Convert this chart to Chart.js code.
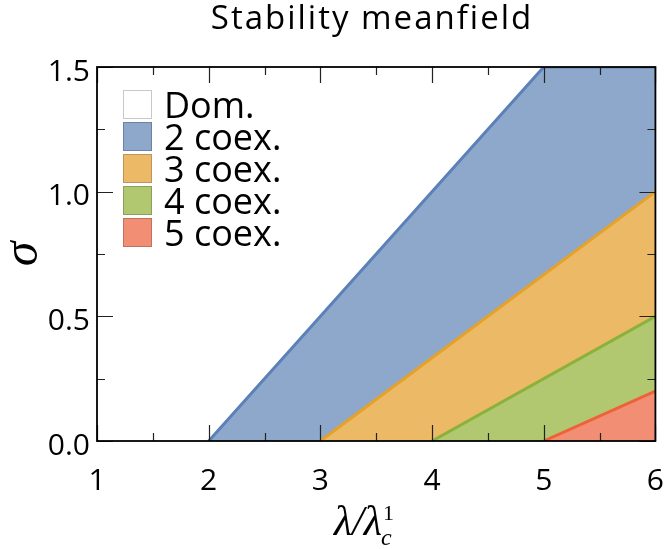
<!DOCTYPE html>
<html>
<head>
<meta charset="utf-8">
<script src="https://cdn.jsdelivr.net/npm/chart.js@4.4.1/dist/chart.umd.min.js"></script>
<style>
    html, body { margin: 0; padding: 0; background: #fff; }
    #wrap { width: 664px; height: 549px; }
</style>
</head>
<body>
<div id="wrap"><canvas id="stabilityChart" width="664" height="549"></canvas></div>
<script>
// phase boundaries: sigma as a function of lambda / lambda_c^1
const lambda2 = [2, 5, 6];
const sigma2 = [0, 1.5, 1.5];
const lambda3 = [3, 6];
const sigma3 = [0, 1.0];
const lambda4 = [4, 6];
const sigma4 = [0, 0.5];
const lambda5 = [5, 6];
const sigma5 = [0, 0.2];

const xMajor = [1, 2, 3, 4, 5, 6];
const xMinor = [1.5, 2.5, 3.5, 4.5, 5.5];
const yMajor = [0, 0.5, 1.0, 1.5];
const yMinor = [0.25, 0.75, 1.25];

const labels = ['Dom.', '2 coex.', '3 coex.', '4 coex.', '5 coex.'];

function toPoints(xs, ys) {
    return xs.map((x, i) => ({ x: x, y: ys[i] }));
}

const FONT = '"Open Sans", "DejaVu Sans", sans-serif';
const MATH = '"Liberation Serif", "DejaVu Serif", serif';

// legend, tick marks, frame and axis titles
const decorations = {
    id: 'decorations',
    afterDatasetsDraw(chart) {
        const ctx = chart.ctx;
        const a = chart.chartArea;
        const xs = chart.scales.x;
        const ys = chart.scales.y;

        ctx.save();
        ctx.strokeStyle = '#222';
        ctx.lineWidth = 1.2;
        ctx.beginPath();
        const xTick = (v, len) => {
            const px = Math.round(xs.getPixelForValue(v)) + 0.5;
            ctx.moveTo(px, a.bottom); ctx.lineTo(px, a.bottom - len);
            ctx.moveTo(px, a.top); ctx.lineTo(px, a.top + len);
        };
        const yTick = (v, len) => {
            const py = Math.round(ys.getPixelForValue(v)) + 0.5;
            ctx.moveTo(a.left, py); ctx.lineTo(a.left + len, py);
            ctx.moveTo(a.right, py); ctx.lineTo(a.right - len, py);
        };
        xMajor.forEach(v => xTick(v, 16));
        xMinor.forEach(v => xTick(v, 8));
        yMajor.forEach(v => yTick(v, 16));
        yMinor.forEach(v => yTick(v, 8));
        ctx.stroke();

        ctx.strokeStyle = '#000';
        ctx.lineWidth = 1.8;
        ctx.strokeRect(a.left, a.top, a.right - a.left, a.bottom - a.top);

        // legend
        ctx.font = '36px ' + FONT;
        ctx.textAlign = 'left';
        ctx.textBaseline = 'alphabetic';
        chart.data.datasets.forEach((ds, i) => {
            const top = a.top + 23 + i * 32;
            const left = a.left + 26;
            ctx.fillStyle = ds.backgroundColor;
            ctx.fillRect(left, top, 29, 29);
            ctx.strokeStyle = ds.legendBorder;
            ctx.lineWidth = 1;
            ctx.strokeRect(left + 0.5, top + 0.5, 28, 28);
            ctx.fillStyle = '#000';
            ctx.fillText(ds.label, left + 41, top + 27.5);
        });

        // title
        ctx.font = '33px ' + FONT;
        ctx.letterSpacing = '2px';
        ctx.textAlign = 'center';
        ctx.fillText('Stability meanfield', 372, 29);
        ctx.letterSpacing = '0px';

        // x axis title: lambda / lambda_c^1
        ctx.textAlign = 'left';
        ctx.font = 'italic 42px ' + MATH;
        const base = 'λ/λ';
        const x0 = 334;
        ctx.fillText(base, x0, 535);
        const w = ctx.measureText(base).width;
        ctx.font = '22px ' + MATH;
        ctx.fillText('1', x0 + w + 1, 520);
        ctx.font = 'italic 24px ' + MATH;
        ctx.fillText('c', x0 + w - 1, 545);

        // y axis title
        ctx.translate(25, (a.top + a.bottom) / 2);
        ctx.rotate(-Math.PI / 2);
        ctx.font = 'italic 50px ' + MATH;
        ctx.textAlign = 'center';
        ctx.fillText('σ', 0, 12);
        ctx.restore();
    }
};

const hiddenGrid = {
    display: true,
    drawOnChartArea: false,
    drawTicks: true,
    color: 'rgba(0,0,0,0)'
};

const ctx = document.getElementById('stabilityChart').getContext('2d');
const stabilityChart = new Chart(ctx, {
    type: 'line',
    data: {
        datasets: [
            {
                label: labels[0],
                data: [],
                backgroundColor: '#ffffff',
                borderColor: '#ffffff',
                legendBorder: '#c8c8c8',
                fill: false,
                order: 5
            },
            {
                label: labels[1],
                data: toPoints(lambda2, sigma2),
                backgroundColor: 'rgb(142, 168, 203)',
                borderColor: 'rgb(92, 128, 184)',
                legendBorder: 'rgb(110, 130, 160)',
                fill: 'origin',
                clip: 0,
                order: 4
            },
            {
                label: labels[2],
                data: toPoints(lambda3, sigma3),
                backgroundColor: 'rgb(236, 185, 102)',
                borderColor: 'rgb(230, 162, 40)',
                legendBorder: 'rgb(190, 150, 90)',
                fill: 'origin',
                order: 3
            },
            {
                label: labels[3],
                data: toPoints(lambda4, sigma4),
                backgroundColor: 'rgb(178, 200, 112)',
                borderColor: 'rgb(138, 178, 58)',
                legendBorder: 'rgb(140, 160, 90)',
                fill: 'origin',
                order: 2
            },
            {
                label: labels[4],
                data: toPoints(lambda5, sigma5),
                backgroundColor: 'rgb(242, 142, 116)',
                borderColor: 'rgb(238, 98, 58)',
                legendBorder: 'rgb(190, 115, 95)',
                fill: 'origin',
                order: 1
            }
        ]
    },
    options: {
        responsive: false,
        animation: false,
        layout: {
            padding: { top: 67, right: 7, left: 0, bottom: 0 }
        },
        elements: {
            point: { radius: 0 },
            line: { borderWidth: 3, tension: 0 }
        },
        plugins: {
            legend: { display: false },
            title: { display: false },
            tooltip: { enabled: false }
        },
        scales: {
            x: {
                type: 'linear',
                min: 1,
                max: 6,
                grid: Object.assign({ tickLength: 22 }, hiddenGrid),
                border: { display: false },
                ticks: {
                    stepSize: 1,
                    padding: 0,
                    color: '#000',
                    font: { family: FONT, size: 30 }
                },
                afterFit: scale => { scale.height = 108; }
            },
            y: {
                min: 0,
                max: 1.5,
                grid: Object.assign({ tickLength: 5 }, hiddenGrid),
                border: { display: false },
                ticks: {
                    stepSize: 0.5,
                    padding: 2,
                    labelOffset: 5,
                    color: '#000',
                    font: { family: FONT, size: 30 },
                    callback: v => v.toFixed(1)
                },
                afterFit: scale => { scale.width = 97; }
            }
        }
    },
    plugins: [decorations]
});
</script>
</body>
</html>
